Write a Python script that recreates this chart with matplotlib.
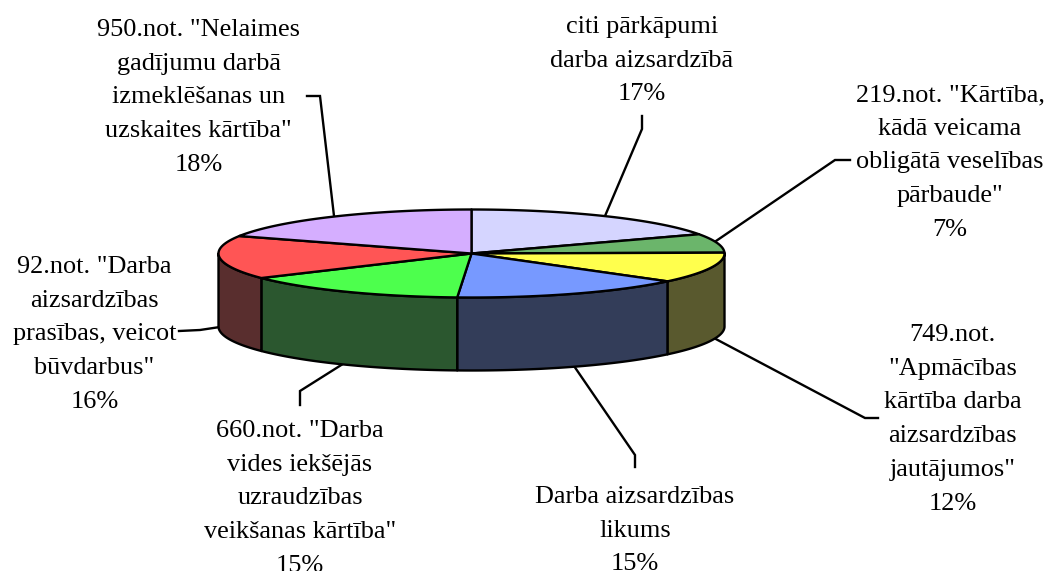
import numpy as np
import matplotlib.pyplot as plt

plt.rcParams['font.family'] = ['Liberation Serif', 'DejaVu Serif']

# Slices clockwise from 12 o'clock (shares, labels as printed)
names = ['citi pārkāpumi\ndarba aizsardzībā',
         '219.not. "Kārtība,\nkādā veicama\nobligātā veselības\npārbaude"',
         '749.not.\n"Apmācības\nkārtība darba\naizsardzības\njautājumos"',
         'Darba aizsardzības\nlikums',
         '660.not. "Darba\nvides iekšējās\nuzraudzības\nveikšanas kārtība"',
         '92.not. "Darba\naizsardzības\nprasības, veicot\nbūvdarbus"',
         '950.not. "Nelaimes\ngadījumu darbā\nizmeklēšanas un\nuzskaites kārtība"']
percent_labels = ['17%', '7%', '12%', '15%', '15%', '16%', '18%']
shares = [17.8, 6.9, 11.2, 15.0, 14.7, 15.9, 18.5]
top_colors = ['#D5D5FF', '#6BB56B', '#FFFF4D', '#7799FF', '#4DFF4D', '#FF5555', '#D5AEFF']
side_colors = ['#40405A', '#2B572F', '#59592E', '#333D59', '#2B572F', '#592E2E', '#40345A']

# where the labels sit (centre x, first line centre y)
label_pos = [(642, 25), (950, 93), (952.5, 333), (635, 495), (300, 429), (94.5, 265), (198.5, 28)]

# leader lines
leaders = [[(642, 116), (642, 129), (605, 216)],
           [(850, 160), (835, 160), (716, 241)],
           [(878, 418), (865, 418), (712, 337)],
           [(635, 467), (635, 455), (574, 366)],
           [(300, 405), (300, 391), (346, 362)],
           [(179, 331), (200, 330), (220, 327)],
           [(307, 96), (320, 96), (334, 216)]]

CX, CY = 471.5, 253.5
RX, RY = 253.0, 44.0
DEPTH = 73.0
EDGE = 1.7


def rim(t):
    # clockwise degrees from 12 o'clock -> pixel position on the top ellipse
    t = np.radians(t)
    return CX + RX * np.sin(t), CY - RY * np.cos(t)


fig = plt.figure(figsize=(10.48, 5.71), dpi=100)
ax = fig.add_axes([0, 0, 1, 1])
ax.set_xlim(0, 1048)
ax.set_ylim(571, 0)
ax.axis('off')

for pts in leaders:
    xs, ys = zip(*pts)
    ax.plot(xs, ys, color='black', lw=EDGE, zorder=1, solid_joinstyle='miter')

edges = np.concatenate([[0], np.cumsum(shares) / np.sum(shares) * 360])

# side walls, only the front half is visible
for i in range(len(shares)):
    a, b = max(edges[i], 90), min(edges[i + 1], 270)
    if a >= b:
        continue
    x, y = rim(np.linspace(a, b, 80))
    ax.fill(np.r_[x, x[::-1]], np.r_[y, y[::-1] + DEPTH], facecolor=side_colors[i],
            edgecolor='black', lw=EDGE, zorder=2, joinstyle='round')

# top faces
for i in range(len(shares)):
    x, y = rim(np.linspace(edges[i], edges[i + 1], 120))
    ax.fill(np.r_[CX, x], np.r_[CY, y], facecolor=top_colors[i],
            edgecolor='black', lw=EDGE, zorder=3, joinstyle='round')

for name, pct, (lx, ly) in zip(names, percent_labels, label_pos):
    ax.text(lx, ly - 9, name + '\n' + pct, ha='center', va='top', fontsize=18.9,
            linespacing=1.69, color='black', zorder=4, clip_on=False)

fig.savefig('out.png', dpi=100, facecolor='white')
